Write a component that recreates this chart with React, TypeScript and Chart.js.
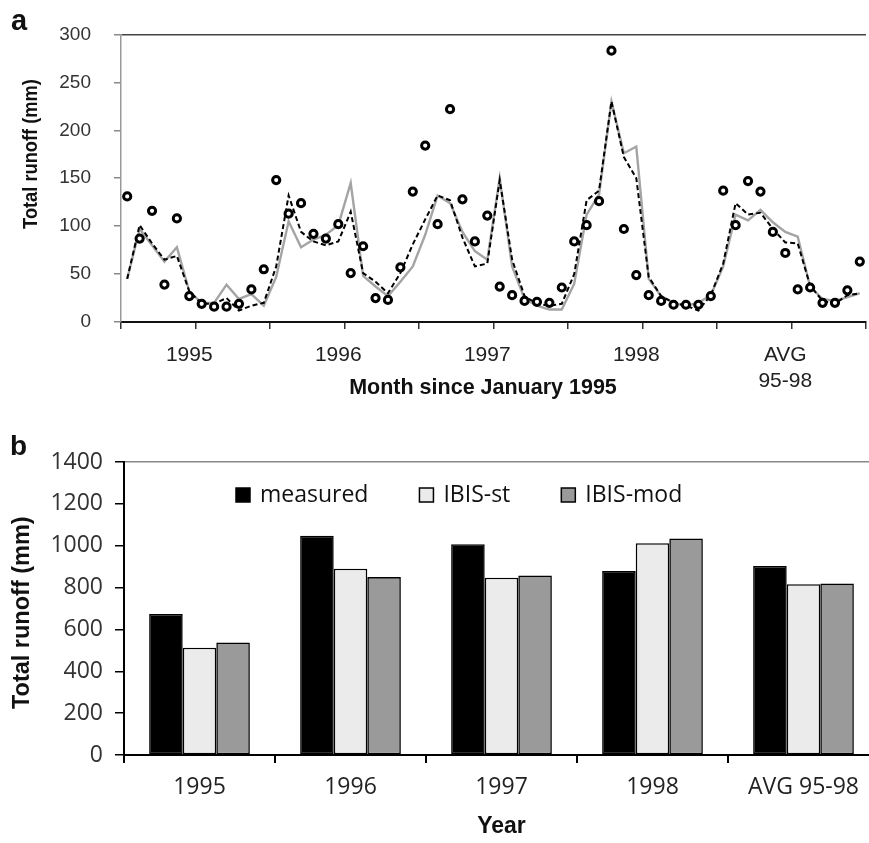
import React, { useEffect, useRef } from "react";
import { Chart, registerables } from "chart.js";
Chart.register(...registerables);

// ---------- Panel a: monthly runoff (mm), Jan 1995 .. Dec 1998 + average year ----------
const monthGroupLabels: (string | string[])[] = ["1995", "1996", "1997", "1998", ["AVG", "95-98"]];

const measuredMonthly = [
  131, 87, 116, 39, 108, 27, 19, 16, 16, 19, 34, 55,
  148, 113, 124, 92, 87, 102, 51, 79, 25, 23, 57, 136,
  184, 102, 222, 128, 84, 111, 37, 28, 22, 21, 20, 36,
  84, 101, 126, 283, 97, 49, 28, 22, 18, 18, 18, 27,
  137, 101, 147, 136, 94, 72, 34, 36, 20, 20, 33, 63,
];

const ibisStMonthly = [
  45, 97, 80, 63, 78, 32, 20, 20, 39, 24, 29, 17,
  47, 105, 78, 86, 91, 101, 145, 48, 37, 27, 42, 58,
  91, 132, 124, 94, 74, 65, 150, 58, 24, 17, 13, 13,
  40, 112, 133, 230, 176, 183, 45, 27, 20, 17, 20, 28,
  58, 112, 106, 117, 104, 94, 89, 37, 24, 22, 26, 30,
];

const ibisModMonthly = [
  45, 101, 82, 65, 69, 32, 19, 19, 25, 12, 17, 20,
  58, 132, 94, 84, 80, 84, 115, 51, 42, 30, 51, 81,
  107, 132, 127, 88, 58, 61, 148, 65, 27, 19, 17, 19,
  50, 127, 137, 230, 172, 150, 47, 27, 20, 17, 12, 28,
  61, 124, 112, 114, 97, 83, 82, 38, 22, 19, 28, 30,
];

// ---------- Panel b: annual runoff (mm) ----------
const barCategories = ["1995", "1996", "1997", "1998", "AVG 95-98"];
const barMeasured = [674, 1048, 1007, 879, 903];
const barIbisSt = [513, 890, 847, 1012, 816];
const barIbisMod = [538, 850, 858, 1035, 820];

const ARIAL = "'Liberation Sans', Arial, sans-serif";
const OPEN = "'Open Sans', 'Noto Sans', sans-serif";

const toXY = (arr: number[]) => arr.map((v, i) => ({ x: i + 0.5, y: v }));

const monthTicks: number[] = [];
for (let k = 0; k <= 60; k += 6) monthTicks.push(k);
for (let g = 0; g < 5; g++) monthTicks.push(g * 12 + 5.5);
monthTicks.sort((p, q) => p - q);

function textPlugin(draw: (ctx: CanvasRenderingContext2D, chart: any) => void) {
  return {
    id: "panelTexts",
    afterDraw(chart: any) {
      const ctx = chart.ctx as CanvasRenderingContext2D;
      ctx.save();
      draw(ctx, chart);
      ctx.restore();
    },
  };
}

export default function App() {
  const refA = useRef<HTMLCanvasElement>(null);
  const refB = useRef<HTMLCanvasElement>(null);

  useEffect(() => {
    const chartA = new Chart(refA.current as HTMLCanvasElement, {
      type: "line",
      data: {
        datasets: [
          {
            label: "measured",
            data: toXY(measuredMonthly),
            showLine: false,
            pointStyle: "circle",
            pointRadius: 3.6,
            pointBorderWidth: 3,
            pointBorderColor: "#000",
            pointBackgroundColor: "#fff",
          },
          {
            label: "IBIS-mod",
            data: toXY(ibisModMonthly),
            borderColor: "#000",
            borderWidth: 2,
            borderDash: [5, 3],
            pointRadius: 0,
            tension: 0,
          },
          {
            label: "IBIS-st",
            data: toXY(ibisStMonthly),
            borderColor: "#a4a4a4",
            borderWidth: 2.4,
            pointRadius: 0,
            tension: 0,
          },
        ],
      },
      options: {
        animation: false,
        responsive: false,
        devicePixelRatio: 1,
        layout: { padding: { top: 17, right: 6, left: 0, bottom: 0 } },
        plugins: { legend: { display: false }, tooltip: { enabled: false } },
        scales: {
          x: {
            type: "linear",
            min: 0,
            max: 60,
            afterBuildTicks: (s: any) => {
              s.ticks = monthTicks.map((v) => ({ value: v }));
            },
            afterFit: (s: any) => {
              s.height = 88;
            },
            ticks: {
              autoSkip: false,
              maxRotation: 0,
              minRotation: 0,
              padding: 14,
              color: "#222",
              font: { family: ARIAL, size: 21 },
              callback: (v: any) => {
                const val = Number(v);
                if (val % 12 === 5.5) return monthGroupLabels[Math.floor(val / 12)];
                return "";
              },
            },
            grid: {
              drawOnChartArea: false,
              tickLength: 7,
              lineWidth: 1.5,
              tickColor: (ctx: any) =>
                ctx.tick && ctx.tick.value % 6 === 0 ? "#333" : "rgba(0,0,0,0)",
            },
            border: { color: "#111", width: 2 },
          },
          y: {
            min: 0,
            max: 300,
            afterFit: (s: any) => {
              s.width = 121;
            },
            ticks: {
              stepSize: 50,
              padding: 23,
              color: "#333",
              font: { family: ARIAL, size: 19 },
            },
            grid: {
              drawOnChartArea: true,
              tickLength: 7,
              lineWidth: 1.5,
              color: (ctx: any) => (ctx.tick && ctx.tick.value === 300 ? "#444" : "rgba(0,0,0,0)"),
              tickColor: "#888",
            },
            border: { color: "#999", width: 1.5 },
          },
        },
      },
      plugins: [
        textPlugin((ctx) => {
          ctx.fillStyle = "#111";
          ctx.font = `bold 29px ${ARIAL}`;
          ctx.textAlign = "left";
          ctx.textBaseline = "alphabetic";
          ctx.fillText("a", 11, 30);

          ctx.font = `bold 21.5px ${ARIAL}`;
          ctx.textAlign = "center";
          ctx.textBaseline = "middle";
          ctx.fillText("Month since January 1995", 483, 388);

          ctx.save();
          ctx.translate(31, 154);
          ctx.rotate(-Math.PI / 2);
          ctx.scale(0.87, 1);
          ctx.font = `bold 21px ${ARIAL}`;
          ctx.fillText("Total runoff (mm)", 0, 0);
          ctx.restore();
        }),
      ],
    } as any);

    const barColors = ["#000000", "#ebebeb", "#9a9a9a"];
    const barSeries = [
      { label: "measured", data: barMeasured },
      { label: "IBIS-st", data: barIbisSt },
      { label: "IBIS-mod", data: barIbisMod },
    ];

    const chartB = new Chart(refB.current as HTMLCanvasElement, {
      type: "bar",
      data: {
        labels: barCategories,
        datasets: barSeries.map((s, i) => ({
          label: s.label,
          data: s.data,
          backgroundColor: barColors[i],
          borderColor: "#000",
          borderWidth: 1.6,
          borderSkipped: false,
          categoryPercentage: 0.667,
          barPercentage: 1,
        })),
      },
      options: {
        animation: false,
        responsive: false,
        devicePixelRatio: 1,
        layout: { padding: { top: 52, right: 6, left: 0, bottom: 0 } },
        plugins: { legend: { display: false }, tooltip: { enabled: false } },
        scales: {
          x: {
            afterFit: (s: any) => {
              s.height = 88;
            },
            ticks: {
              padding: 11,
              maxRotation: 0,
              minRotation: 0,
              autoSkip: false,
              color: "#222",
              font: { family: OPEN, size: 23 },
            },
            grid: {
              offset: true,
              drawOnChartArea: false,
              tickLength: 8,
              lineWidth: 2,
              tickColor: "#000",
            },
            border: { color: "#000", width: 2 },
          },
          y: {
            min: 0,
            max: 1400,
            afterFit: (s: any) => {
              s.width = 124;
            },
            ticks: {
              stepSize: 200,
              padding: 12,
              color: "#333",
              font: { family: OPEN, size: 23 },
              callback: (v: any) => String(v),
            },
            grid: {
              drawOnChartArea: true,
              tickLength: 9,
              lineWidth: 1.5,
              color: (ctx: any) => (ctx.tick && ctx.tick.value === 1400 ? "#888" : "rgba(0,0,0,0)"),
              tickColor: "#000",
            },
            border: { color: "#000", width: 2 },
          },
        },
      },
      plugins: [
        textPlugin((ctx) => {
          ctx.fillStyle = "#111";
          ctx.font = `bold 28px ${ARIAL}`;
          ctx.textAlign = "left";
          ctx.textBaseline = "alphabetic";
          ctx.fillText("b", 10, 45);

          ctx.font = `bold 23px ${ARIAL}`;
          ctx.textAlign = "center";
          ctx.textBaseline = "middle";
          ctx.fillText("Year", 501.5, 417);

          ctx.save();
          ctx.translate(22.5, 202.7);
          ctx.rotate(-Math.PI / 2);
          ctx.font = `bold 23.5px ${ARIAL}`;
          ctx.fillText("Total runoff (mm)", 0, 0);
          ctx.restore();

          // legend inside plot area
          ctx.font = `23px ${OPEN}`;
          ctx.textAlign = "left";
          ctx.textBaseline = "alphabetic";
          let x = 236;
          const boxTop = 78;
          const box = 14;
          barSeries.forEach((s, i) => {
            ctx.fillStyle = barColors[i];
            ctx.fillRect(x, boxTop, box, box);
            ctx.strokeStyle = "#000";
            ctx.lineWidth = 1.5;
            ctx.strokeRect(x, boxTop, box, box);
            ctx.fillStyle = "#111";
            const tx = x + 24;
            ctx.fillText(s.label, tx, 92);
            x = tx + ctx.measureText(s.label).width + 51;
          });
        }),
      ],
    } as any);

    return () => {
      chartA.destroy();
      chartB.destroy();
    };
  }, []);

  return (
    <div
      style={{
        position: "absolute",
        left: 0,
        top: 0,
        width: 869,
        height: 843,
        overflow: "hidden",
        background: "#fff",
      }}
    >
      <canvas ref={refA} width={880} height={410} style={{ position: "absolute", left: 0, top: 0 }} />
      <canvas ref={refB} width={885} height={433} style={{ position: "absolute", left: 0, top: 410 }} />
    </div>
  );
}
